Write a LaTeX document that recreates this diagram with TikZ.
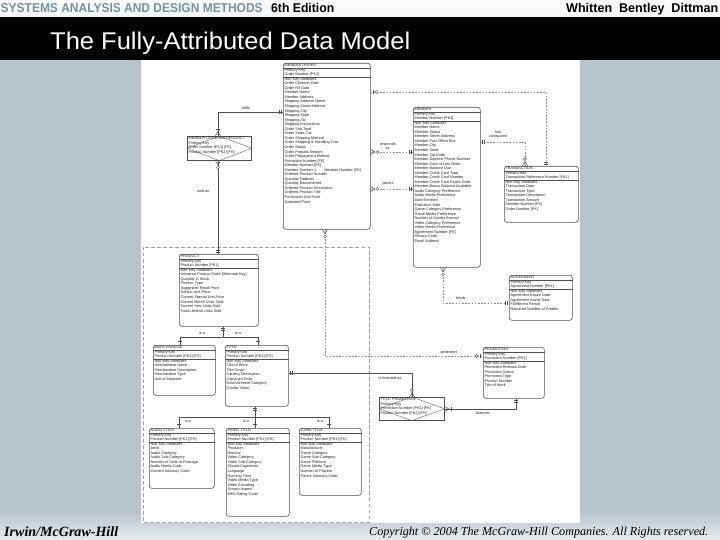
\documentclass[tikz,border=0pt]{standalone}
\usepackage{fontspec}
\setmainfont{Liberation Sans}
\newfontfamily\footserif{Liberation Serif}
\usetikzlibrary{calc}
\definecolor{panelgrey}{HTML}{B8C4CC}
\definecolor{footlight}{HTML}{E8ECEE}
\definecolor{hdrblue}{HTML}{7592A0}
\definecolor{erline}{HTML}{505050}
\definecolor{ertext}{HTML}{222222}
\definecolor{dashgrey}{HTML}{8A8A8A}
\newcommand\eline[1]{\mbox{\hspace*{1.3bp}#1}\par}
\newcommand\ebody[3]{\parbox[t][#2][t]{#1}{\fontsize{3.8bp}{4.55bp}\selectfont\color{ertext}\vspace*{0.6bp}#3}}
\newcommand\esep[2]{\draw[sepline] ($(#1.north west)+(0,#2)$) -- ($(#1.north east)+(0,#2)$);}
% markers: point, dx, dy (direction away from entity)
\newcommand\mkbars[3]{\draw[mk] ($(#1)+(2*#2+2.2*#3,2*#3+2.2*#2)$) -- ($(#1)+(2*#2-2.2*#3,2*#3-2.2*#2)$)
  ($(#1)+(4*#2+2.2*#3,4*#3+2.2*#2)$) -- ($(#1)+(4*#2-2.2*#3,4*#3-2.2*#2)$);}
\newcommand\mkbar[4]{\draw[mk] ($(#1)+(#4*#2+2.2*#3,#4*#3+2.2*#2)$) -- ($(#1)+(#4*#2-2.2*#3,#4*#3-2.2*#2)$);}
\newcommand\mkcrow[3]{\draw[mk] ($(#1)+(2.6*#3,2.6*#2)$) -- ($(#1)+(4.5*#2,4.5*#3)$) -- ($(#1)+(-2.6*#3,-2.6*#2)$)
  (#1) -- ($(#1)+(4.5*#2,4.5*#3)$);}
\newcommand\mkcirc[4]{\draw[mk,fill=white] ($(#1)+(#4*#2,#4*#3)$) circle[radius=1.5bp];}
\tikzset{
  ent/.style={draw=erline, line width=0.6bp, rounded corners=2.5bp, fill=white, inner sep=0pt, anchor=north west},
  assoc/.style={draw=erline, line width=0.6bp, fill=white, inner sep=0pt, anchor=north west},
  sepline/.style={draw=erline, line width=0.35bp},
  rel/.style={draw=erline, line width=0.45bp},
  relD/.style={draw=dashgrey, line width=0.45bp, dash pattern=on 1.6bp off 1.6bp},
  pageb/.style={draw=dashgrey!80, line width=0.4bp, dash pattern=on 3.5bp off 2.5bp},
  mk/.style={draw=erline, line width=0.45bp},
  lbl/.style={font=\fontsize{3.8bp}{4.3bp}\selectfont, text=ertext, inner sep=0pt, align=center},
}
\begin{document}
\begin{tikzpicture}[x=1bp,y=-1bp]
\useasboundingbox (0,0) rectangle (720,540);
% background
\fill[panelgrey] (0,0) rectangle (720,540);
\shade[top color=panelgrey, bottom color=footlight] (0,512) rectangle (720,540);
\shade[top color=white!96!panelgrey, bottom color=white!82!panelgrey] (0,0) rectangle (720,17.5);
\fill[black] (0,17.5) rectangle (720,60.5);
\fill[white] (141,60.5) rectangle (580,523);
% header
\node[anchor=base west, inner sep=0pt, text=hdrblue] (hdrA) at (0.5,12.6) {\resizebox{262bp}{9bp}{\bfseries SYSTEMS ANALYSIS AND DESIGN METHODS}};
\node[anchor=base west, inner sep=0pt] (hdrB) at (271,12.6) {\resizebox{63bp}{9.2bp}{\bfseries 6th Edition}};
\node[anchor=base west, inner sep=0pt] (hdrC) at (566,12.6) {\resizebox{152bp}{9.2bp}{\bfseries Whitten\ \ Bentley\ \ Dittman}};
\node[anchor=base west, inner sep=0pt, text=white] (title) at (50,49.5) {\resizebox{360bp}{17.5bp}{The Fully-Attributed Data Model}};
% footer
\node[anchor=base west, inner sep=0pt] (pub) at (4,536.5) {\resizebox{114bp}{!}{\footserif\itshape\bfseries Irwin/McGraw-Hill}};
\node[anchor=base west, inner sep=0pt] (copy) at (369,535.5) {\resizebox{339bp}{!}{\footserif\itshape Copyright \textcopyright\ 2004 The McGraw-Hill Companies. All Rights reserved.}};
% page boundary
\draw[pageb] (143,247) rectangle (369,522);

% ===== entities =====
\node[ent] (mo) at (283,63) {\ebody{87bp}{166bp}{%
\eline{MEMBER ORDER}\eline{Primary Key}\eline{Order Number [PK1]}\eline{Non-Key Attributes}%
\eline{Order Creation Date}\eline{Order Fill Date}\eline{Member Name}\eline{Member Address}%
\eline{Shipping Address Name}\eline{Shipping Street Address}\eline{Shipping City}\eline{Shipping State}%
\eline{Shipping Zip}\eline{Shipping Instructions}\eline{Order Sub Total}\eline{Order Sales Tax}%
\eline{Order Shipping Method}\eline{Order Shipping \& Handling Cost}\eline{Order Status}%
\eline{Order Prepaid Amount}\eline{Order Prepayment Method}\eline{Promotion Number [FK]}%
\eline{Member Number [FK]}\eline{Member Number 1\hspace{8bp}Member Number (FK)}\eline{Ordered Product Number}%
\eline{Quantity Ordered}\eline{Quantity Backordered}\eline{Ordered Product Description}%
\eline{Ordered Product Title}\eline{Purchased Unit Price}\eline{Extended Price}}};
\esep{mo}{5.3}\esep{mo}{14.6}

\node[ent] (mem) at (413,107) {\ebody{67bp}{160bp}{%
\eline{MEMBER}\eline{Primary Key}\eline{Member Number [PK1]}\eline{Non-Key Attributes}%
\eline{Member Name}\eline{Member Status}\eline{Member Street Address}\eline{Member Post Office Box}%
\eline{Member City}\eline{Member State}\eline{Member Zip Code}\eline{Member Daytime Phone Number}%
\eline{Member Date of Last Order}\eline{Member Balance Due}\eline{Member Credit Card Type}%
\eline{Member Credit Card Number}\eline{Member Credit Card Expire Date}\eline{Member Bonus Balance Available}%
\eline{Audio Category Preference}\eline{Audio Media Preference}\eline{Date Enrolled}\eline{Expiration Date}%
\eline{Game Category Preference}\eline{Game Media Preference}\eline{Number of Credits Earned}%
\eline{Video Category Preference}\eline{Video Media Preference}\eline{Agreement Number [FK]}%
\eline{Privacy Code}\eline{Email Address}}};
\esep{mem}{5.3}\esep{mem}{14.6}

\node[ent] (trn) at (504,166) {\ebody{74bp}{56bp}{%
\eline{TRANSACTION}\eline{Primary Key}\eline{Transaction Reference Number [PK1]}\eline{Non-Key Attributes}%
\eline{Transaction Date}\eline{Transaction Type}\eline{Transaction Description}\eline{Transaction Amount}%
\eline{Member Number [FK]}\eline{Order Number [FK]}}};
\esep{trn}{5.3}\esep{trn}{14.6}

\node[ent] (agr) at (509,275) {\ebody{63bp}{45bp}{%
\eline{AGREEMENT}\eline{Primary Key}\eline{Agreement Number [PK1]}\eline{Non-Key Attributes}%
\eline{Agreement Expire Date}\eline{Agreement Active Date}\eline{Fulfillment Period}%
\eline{Required Number of Credits}}};
\esep{agr}{5.3}\esep{agr}{14.6}

\node[ent] (prod) at (179,254) {\ebody{79bp}{72bp}{%
\eline{PRODUCT}\eline{Primary Key}\eline{Product Number [PK1]}\eline{Non-Key Attributes}%
\eline{Universal Product Code [Alternate Key]}\eline{Quantity in Stock}\eline{Product Type}%
\eline{Suggested Retail Price}\eline{Default Unit Price}\eline{Current Special Unit Price}%
\eline{Current Month Units Sold}\eline{Current Year Units Sold}\eline{Total Lifetime Units Sold}}};
\esep{prod}{5.3}\esep{prod}{14.6}

\node[ent] (mer) at (153,345) {\ebody{62bp}{50bp}{%
\eline{MERCHANDISE}\eline{Primary Key}\eline{Product Number [PK1] [FK]}\eline{Non-Key Attributes}%
\eline{Merchandise Name}\eline{Merchandise Description}\eline{Merchandise Type}\eline{Unit of Measure}}};
\esep{mer}{5.3}\esep{mer}{14.6}

\node[ent] (tit) at (225,345) {\ebody{63bp}{61bp}{%
\eline{TITLE}\eline{Primary Key}\eline{Product Number [PK1] [FK]}\eline{Non-Key Attributes}%
\eline{Title of Work}\eline{Title Cover}\eline{Catalog Description}\eline{Copyright Date}%
\eline{Entertainment Category}\eline{Credits Value}}};
\esep{tit}{5.3}\esep{tit}{14.6}

\node[ent] (prm) at (483,347) {\ebody{61bp}{51bp}{%
\eline{PROMOTION}\eline{Primary Key}\eline{Promotion Number [PK1]}\eline{Non-Key Attributes}%
\eline{Promotion Release Date}\eline{Promotion Status}\eline{Promotion Type}\eline{Product Number}%
\eline{Title of Work}}};
\esep{prm}{5.3}\esep{prm}{14.6}

\node[ent] (aud) at (149,428) {\ebody{65bp}{60bp}{%
\eline{AUDIO TITLE}\eline{Primary Key}\eline{Product Number [PK1] [FK]}\eline{Non-Key Attributes}%
\eline{Artist}\eline{Audio Category}\eline{Audio Sub-Category}\eline{Number of Units in Package}%
\eline{Audio Media Code}\eline{Content Advisory Code}}};
\esep{aud}{5.3}\esep{aud}{14.6}

\node[ent] (vid) at (226,428) {\ebody{63bp}{88bp}{%
\eline{VIDEO TITLE}\eline{Primary Key}\eline{Product Number [PK1] [FK]}\eline{Non-Key Attributes}%
\eline{Producer}\eline{Director}\eline{Video Category}\eline{Video Sub-Category}\eline{Closed Captioned}%
\eline{Language}\eline{Running Time}\eline{Video Media Type}\eline{Video Encoding}\eline{Screen Aspect}%
\eline{MPA Rating Code}}};
\esep{vid}{5.3}\esep{vid}{14.6}

\node[ent] (gam) at (299,428) {\ebody{62bp}{67bp}{%
\eline{GAME TITLE}\eline{Primary Key}\eline{Product Number [PK1] [FK]}\eline{Non-Key Attributes}%
\eline{Manufacturer}\eline{Game Category}\eline{Game Sub-Category}\eline{Game Platform}%
\eline{Game Media Type}\eline{Number of Players}\eline{Parent Advisory Code}}};
\esep{gam}{5.3}\esep{gam}{14.6}

% associative entities
\node[assoc] (mop) at (187,136) {\ebody{64bp}{24bp}{%
\eline{MEMBER ORDERED PRODUCT}\eline{Primary Key}\eline{Order Number [PK1] [FK]}\eline{Product Number [PK2] [FK]}}};
\draw[sepline] (mop.west) -- (mop.north) -- (mop.east) -- (mop.south) -- cycle;
\node[assoc] (tp) at (379,397) {\ebody{65bp}{23bp}{%
\eline{TITLE PROMOTION}\eline{Primary Key}\eline{Promotion Number [PK1] [FK]}\eline{Product Number [PK2] [FK]}}};
\draw[sepline] (tp.west) -- (tp.north) -- (tp.east) -- (tp.south) -- cycle;

% ===== connection points =====
\coordinate (sA) at ($(mo.north west)+(0,49)$);
\coordinate (sB) at ($(mop.north west)+(31,0)$);
\coordinate (saA) at ($(mop.south west)+(31,0)$);
\coordinate (saB) at ($(prod.north west)+(39,0)$);
\coordinate (pB) at ($(prod.south west)+(44,0)$);
\coordinate (pbus) at ($(pB)+(0,11)$);
\coordinate (merT) at ($(mer.north west)+(27,0)$);
\coordinate (titT) at ($(tit.north west)+(33,0)$);
\coordinate (tB) at ($(tit.south west)+(30,0)$);
\coordinate (tbus) at ($(tB)+(0,11)$);
\coordinate (audT) at ($(aud.north west)+(30,0)$);
\coordinate (vidT) at ($(vid.north west)+(29,0)$);
\coordinate (gamT) at ($(gam.north west)+(30,0)$);
\coordinate (tE) at ($(tit.north east)+(0,28)$);
\coordinate (tpT) at ($(tp.north west)+(33,0)$);
\coordinate (prB) at ($(prm.south west)+(33,0)$);
\coordinate (tpE) at ($(tp.north east)+(0,12)$);
\coordinate (moB) at ($(mo.south west)+(42,0)$);
\coordinate (prW) at ($(prm.north west)+(0,9)$);
\coordinate (moE1) at ($(mo.north east)+(0,29)$);
\coordinate (trT1) at ($(trn.north west)+(42,0)$);
\coordinate (moE2) at ($(mo.north east)+(0,89)$);
\coordinate (memW2) at ($(mem.north west)+(0,45)$);
\coordinate (moE3) at ($(mo.north east)+(0,126)$);
\coordinate (memW3) at ($(mem.north west)+(0,82)$);
\coordinate (memE) at ($(mem.north east)+(0,35)$);
\coordinate (trT2) at ($(trn.north west)+(21,0)$);
\coordinate (memB) at ($(mem.south west)+(30,0)$);
\coordinate (agW) at ($(agr.north west)+(0,28)$);

% ===== connectors =====
\draw[rel] (sA) -| (sB);
\draw[rel] (saA) -- (saB);
\draw[rel] (pB) -- (pbus);
\draw[rel] (merT) |- (pbus) -| (titT);
\draw[rel] (tB) -- (tbus);
\draw[rel] (audT) |- (tbus) -| (gamT);
\draw[rel] (tbus) -- (vidT);
\draw[rel] (tE) -| (tpT);
\draw[rel] (prB) |- (tpE);
\draw[relD] (moB) |- (prW);
\draw[relD] (moE1) -| (trT1);
\draw[relD] (moE2) -- (memW2);
\draw[relD] (moE3) -- (memW3);
\draw[relD] (memE) -| (trT2);
\draw[relD] (memB) |- (agW);

% ===== markers =====
\mkbars{sA}{-1}{0}
\mkcrow{sB}{0}{-1}\mkbar{sB}{0}{-1}{6.5}
\mkcrow{saA}{0}{1}\mkcirc{saA}{0}{1}{7}
\mkbars{saB}{0}{-1}
\mkbars{pB}{0}{1}
\mkbar{merT}{0}{-1}{3.5}\mkbar{titT}{0}{-1}{3.5}
\mkbars{tB}{0}{1}
\mkbar{audT}{0}{-1}{3.5}\mkbar{vidT}{0}{-1}{3.5}\mkbar{gamT}{0}{-1}{3.5}
\mkbars{tE}{1}{0}
\mkcrow{tpT}{0}{-1}\mkcirc{tpT}{0}{-1}{7}
\mkbars{prB}{0}{1}
\mkcrow{tpE}{1}{0}\mkbar{tpE}{1}{0}{6.5}
\mkcrow{moB}{0}{1}\mkcirc{moB}{0}{1}{7}
\mkbar{prW}{-1}{0}{3}\mkcirc{prW}{-1}{0}{6.5}
\mkbar{moE1}{1}{0}{2.5}\mkcirc{moE1}{1}{0}{6}
\mkbars{trT1}{0}{-1}
\mkcrow{moE2}{1}{0}\mkcirc{moE2}{1}{0}{7}
\mkbars{memW2}{-1}{0}
\mkcrow{moE3}{1}{0}\mkcirc{moE3}{1}{0}{7}
\mkbars{memW3}{-1}{0}
\mkbars{memE}{1}{0}
\mkcrow{trT2}{0}{-1}\mkcirc{trT2}{0}{-1}{7}
\mkcrow{memB}{0}{1}\mkcirc{memB}{0}{1}{7}
\mkbars{agW}{-1}{0}

% ===== relationship labels =====
\node[lbl] (lsells) at (246,108) {sells};
\node[lbl] (lsold) at (203,191) {sold as};
\node[lbl] (lresp) at (388,146) {responds\\to};
\node[lbl] (lplaces) at (388,184) {places};
\node[lbl] (lhas) at (498,134) {has\\conducted};
\node[lbl] (lbinds) at (461,298) {binds};
\node[lbl] (lgen) at (449,352.5) {generates};
\node[lbl] (lfeat) at (390,378) {is featured as};
\node[lbl] (lfeats) at (483,413) {features};
\node[lbl] (lisa1) at (202,333) {is a};
\node[lbl] (lisa2) at (238,333) {is a};
\node[lbl] (lisa3) at (188,421.5) {is a};
\node[lbl] (lisa4) at (246,421.5) {is a};
\node[lbl] (lisa5) at (320,421.5) {is a};
\end{tikzpicture}
\end{document}
